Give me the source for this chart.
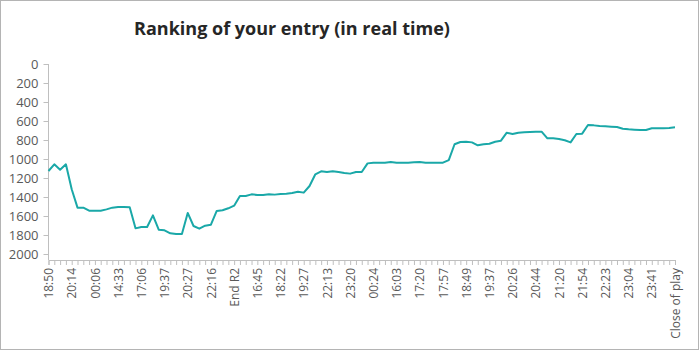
<!DOCTYPE html>
<html>
<head>
<meta charset="utf-8">
<script src="https://cdn.jsdelivr.net/npm/d3@7"></script>
<style>
  body { margin: 0; background: #fff; }
  svg { display: block; font-family: "Open Sans", "Noto Sans", sans-serif; }
</style>
</head>
<body>
<div id="chart"></div>
<script>
// labels shown on the axis (every 4th time stamp)
let labels = ['18:50', '20:14', '00:06', '14:33', '17:06', '19:37', '20:27', '22:16', 'End R2',
  '16:45', '18:22', '19:27', '22:13', '23:20', '00:24', '16:03', '17:20', '17:57',
  '18:49', '19:37', '20:26', '20:44', '21:20', '21:54', '22:23', '23:04', '23:41', 'Close of play']

// ranking at each update
let ranks = [1126, 1056, 1112, 1056, 1319, 1512, 1512, 1544, 1544, 1544,
  1530, 1512, 1505, 1505, 1509, 1730, 1716, 1716, 1593, 1744,
  1751, 1782, 1789, 1789, 1568, 1705, 1733, 1702, 1691, 1547,
  1540, 1519, 1491, 1389, 1389, 1372, 1379, 1379, 1372, 1375,
  1368, 1365, 1358, 1344, 1354, 1284, 1161, 1130, 1137, 1130,
  1137, 1147, 1154, 1137, 1137, 1046, 1039, 1039, 1039, 1032,
  1039, 1039, 1039, 1035, 1032, 1039, 1039, 1039, 1039, 1011,
  845, 821, 818, 825, 856, 845, 839, 818, 807, 723,
  737, 723, 719, 716, 712, 712, 782, 782, 789, 803,
  825, 737, 733, 642, 646, 653, 656, 660, 663, 681,
  688, 691, 695, 695, 677, 677, 677, 674, 667]

let yTicks = [0, 200, 400, 600, 800, 1000, 1200, 1400, 1600, 1800, 2000]

let width = 699
let height = 350
let margin = { top: 64, left: 48.5, right: 24, bottom: 96 }
let axisY = 260

let svg = d3
  .select('#chart')
  .append('svg')
  .attr('width', width)
  .attr('height', height)

svg
  .append('rect')
  .attr('x', 0.5)
  .attr('y', 0.5)
  .attr('width', width - 1)
  .attr('height', height - 1)
  .attr('fill', '#fff')
  .attr('stroke', '#b4b4b4')

svg
  .append('text')
  .attr('x', 292)
  .attr('y', 35)
  .attr('text-anchor', 'middle')
  .attr('font-size', 18)
  .attr('font-weight', 700)
  .attr('fill', '#262626')
  .text('Ranking of your entry (in real time)')

let idx = d3.range(ranks.length)

let xScale = d3
  .scalePoint()
  .domain(idx)
  .range([margin.left, width - margin.right])

let yScale = d3
  .scaleLinear()
  .domain([0, 2000])
  .range([margin.top, 254])

// y axis
let yAxis = svg
  .append('g')
  .attr('transform', 'translate(' + margin.left + ',0)')
  .call(
    d3
      .axisLeft(yScale)
      .tickValues(yTicks)
      .tickFormat(d3.format('d'))
      .tickSize(5)
      .tickPadding(5)
  )

yAxis.select('.domain').attr('d', 'M0,' + margin.top + 'V' + axisY)

// x axis
let xAxis = svg
  .append('g')
  .attr('transform', 'translate(0,' + axisY + ')')
  .call(
    d3
      .axisBottom(xScale)
      .tickSize(5)
      .tickFormat(i => (i % 4 === 0 ? labels[i / 4] : ''))
  )

xAxis
  .selectAll('text')
  .attr('transform', 'rotate(-90)')
  .attr('text-anchor', 'end')
  .attr('x', -8)
  .attr('y', 0)
  .attr('dy', '0.35em')

svg.selectAll('.domain, .tick line').attr('stroke', '#bfbfbf')
svg
  .selectAll('.tick text')
  .attr('fill', '#595959')
  .attr('font-size', 13)
  .attr('font-family', '"Open Sans", sans-serif')

xAxis.selectAll('.tick text').attr('font-size', 12)

let line = d3
  .line()
  .x(i => xScale(i))
  .y(i => yScale(ranks[i]))

svg
  .append('path')
  .datum(idx)
  .attr('d', line)
  .attr('fill', 'none')
  .attr('stroke', '#1aa8a8')
  .attr('stroke-width', 2)
  .attr('stroke-linejoin', 'round')
</script>
</body>
</html>
